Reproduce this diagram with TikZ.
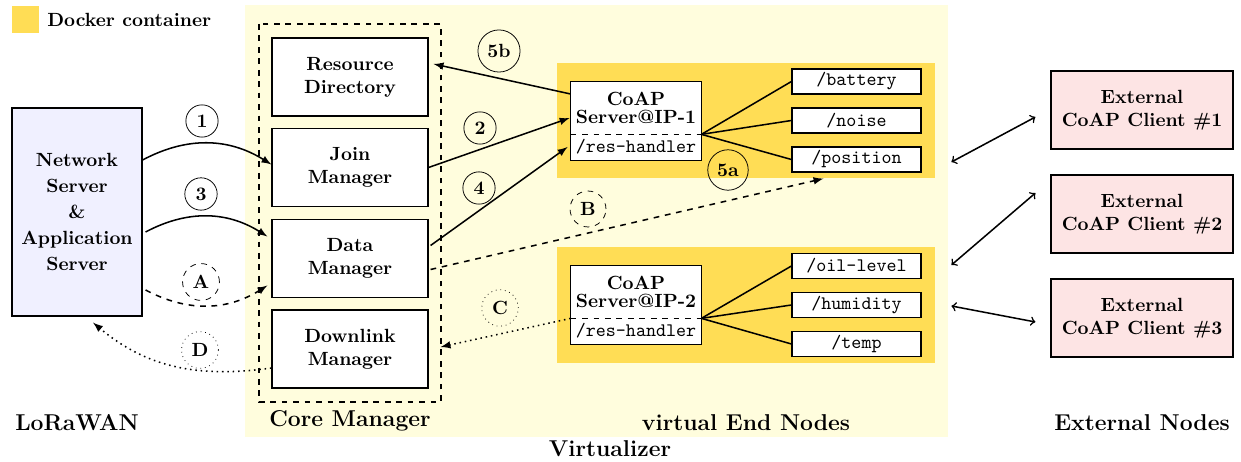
\documentclass[tikz,border=0pt]{standalone}
\usetikzlibrary{positioning,calc,arrows}

\newcommand{\pxu}{0.524pt}
\definecolor{virtbg}{RGB}{255,253,221}
\definecolor{dockeryellow}{RGB}{255,221,85}
\definecolor{serverblue}{RGB}{240,240,255}
\definecolor{clientpink}{RGB}{253,228,228}

\tikzset{
  mgrbox/.style={draw, semithick, fill=white, align=center, font=\bfseries,
    minimum width=156*\pxu, minimum height=78*\pxu},
  resbox/.style={draw, semithick, fill=white, font=\ttfamily, inner sep=1pt,
    minimum width=129*\pxu, minimum height=25*\pxu},
  clientbox/.style={draw, semithick, fill=clientpink, align=center, font=\bfseries,
    minimum width=182*\pxu, minimum height=78*\pxu},
  stepnum/.style={circle, draw, thin, font=\bfseries, inner sep=2.9pt},
  grouplabel/.style={font=\large\bfseries},
  flow/.style={thick, -latex},
}

\begin{document}
\begin{tikzpicture}[x=\pxu, y=-\pxu]
    \useasboundingbox (0,0) rectangle (1241,462);

    % 1. Backgrounds and legend
    \fill[virtbg] (245,5) rectangle (948,437);
    \fill[dockeryellow] (557,63) rectangle (935,178);    % container IP-1
    \fill[dockeryellow] (557,247) rectangle (935,363);   % container IP-2
    \draw[dashed, semithick] (259,24) rectangle (441,402); % core manager

    \node[fill=dockeryellow, minimum size=27*\pxu, inner sep=0pt] (legbox) at (25,20) {};
    \node[font=\bfseries, anchor=west, inner sep=0pt] (legtxt) at (47,20) {Docker container};

    % 2. LoRaWAN side
    \node[draw, semithick, fill=serverblue, align=center, font=\bfseries,
          minimum width=130*\pxu, minimum height=208*\pxu] (NS) at (77,212)
          {Network\\[1.5pt]Server\\[1.5pt]\&\\[1.5pt]Application\\[1.5pt]Server};

    % 3. Core manager boxes
    \node[mgrbox] (RD) at (350,77)    {Resource\\Directory};
    \node[mgrbox] (JM) at (350,167.5) {Join\\Manager};
    \node[mgrbox] (DM) at (350,258.5) {Data\\Manager};
    \node[mgrbox] (DL) at (350,349)   {Downlink\\Manager};

    % 4. Virtual end nodes (CoAP servers + resources)
    \node[fill=white, font=\bfseries, align=center, inner sep=1pt,
          minimum width=130*\pxu, minimum height=52*\pxu] (srv1) at (636,108) {CoAP\\[-3pt]Server@IP-1};
    \node[fill=white, font=\ttfamily, inner sep=1pt,
          minimum width=130*\pxu, minimum height=26*\pxu] (hdl1) at (636,147) {/res-handler};
    \node[fill=white, font=\bfseries, align=center, inner sep=1pt,
          minimum width=130*\pxu, minimum height=52*\pxu] (srv2) at (636,292) {CoAP\\[-3pt]Server@IP-2};
    \node[fill=white, font=\ttfamily, inner sep=1pt,
          minimum width=130*\pxu, minimum height=26*\pxu] (hdl2) at (636,331) {/res-handler};

    \foreach \s/\h in {srv1/hdl1, srv2/hdl2} {
        \draw[semithick] (\s.north west) rectangle (\h.south east);
        \draw[dashed, semithick] (\s.south west) -- (\s.south east);
    }

    \foreach \n/\t/\y in {bat/battery/81.5, noi/noise/120.5, pos/position/159.5,
                          oil/oil-level/266, hum/humidity/305, tmp/temp/344}
        \node[resbox] (\n) at (856.5,\y) {/\t};

    \foreach \n in {bat, noi, pos}
        \draw[thick] (srv1.south east) -- (\n.west);
    \foreach \n in {oil, hum, tmp}
        \draw[thick] (srv2.south east) -- (\n.west);

    % 5. External nodes
    \node[clientbox] (ext1) at (1142,110) {External\\CoAP Client \#1};
    \node[clientbox] (ext2) at (1142,214) {External\\CoAP Client \#2};
    \node[clientbox] (ext3) at (1142,318) {External\\CoAP Client \#3};

    \coordinate (c1) at ($(ext1.west)+(-99,52)$);
    \coordinate (c2) at ($(ext2.west)+(-99,51)$);
    \coordinate (c3) at ($(ext3.west)+(-99,-12)$);
    \draw[thick, <->] (c1) -- ($(ext1.west)+(-15,7)$);
    \draw[thick, <->] (c2) -- ($(ext2.west)+(-15,-21)$);
    \draw[thick, <->] (c3) -- ($(ext3.west)+(-15,4)$);

    % 6. Flows between the blocks
    \draw[flow] ($(NS.east)+(0,-52)$) to[bend left=30] ($(JM.west)+(0,-3)$);
    \draw[flow] ($(NS.east)+(3,20)$) to[bend left=30] ($(DM.west)+(-4,-22)$);
    \draw[flow, dashed] ($(NS.east)+(3,78)$) to[bend right=30] ($(DM.west)+(-4,27)$);
    \draw[flow, dotted] ($(DL.west)+(0,19)$) to[out=188, in=-40] ($(NS.south)+(16,6)$);

    \draw[flow] (JM.east) -- ($(srv1.west)+(-1,10)$);
    \draw[flow] ($(DM.east)+(2,-13)$) -- ($(hdl1.west)+(-3,0)$);
    \draw[flow] ($(srv1.west)+(0,-14)$) -- ($(RD.east)+(5,-13)$);
    \draw[flow, dashed] ($(DM.east)+(2,11)$) -- ($(pos.south)+(-33,6)$);
    \draw[flow, dotted] (srv2.south west) -- ($(DL.east)+(12,-2)$);

    % 7. Step markers
    \node[stepnum] (s1)  at (202,121) {1};
    \node[stepnum] (s3)  at (201,194) {3};
    \node[stepnum, dashed] (sA) at (201,282) {A};
    \node[stepnum, dotted] (sD) at (200,350) {D};
    \node[stepnum] (s2)  at (480,128) {2};
    \node[stepnum] (s4)  at (479,188) {4};
    \node[stepnum] (s5b) at (499,51)  {5b};
    \node[stepnum] (s5a) at (728,170) {5a};
    \node[stepnum, dashed] (sB) at (588,209) {B};
    \node[stepnum, dotted] (sC) at (500,308) {C};

    % 8. Group labels
    \node[grouplabel] (lbllora) at (77,423)   {LoRaWAN};
    \node[grouplabel] (lblcore) at (350,421)  {Core Manager};
    \node[grouplabel] (lblven)  at (746,423)  {virtual End Nodes};
    \node[grouplabel] (lblext)  at (1142,423) {External Nodes};
    \node[grouplabel] (lblvirt) at (610,449)  {Virtualizer};

\end{tikzpicture}
\end{document}
